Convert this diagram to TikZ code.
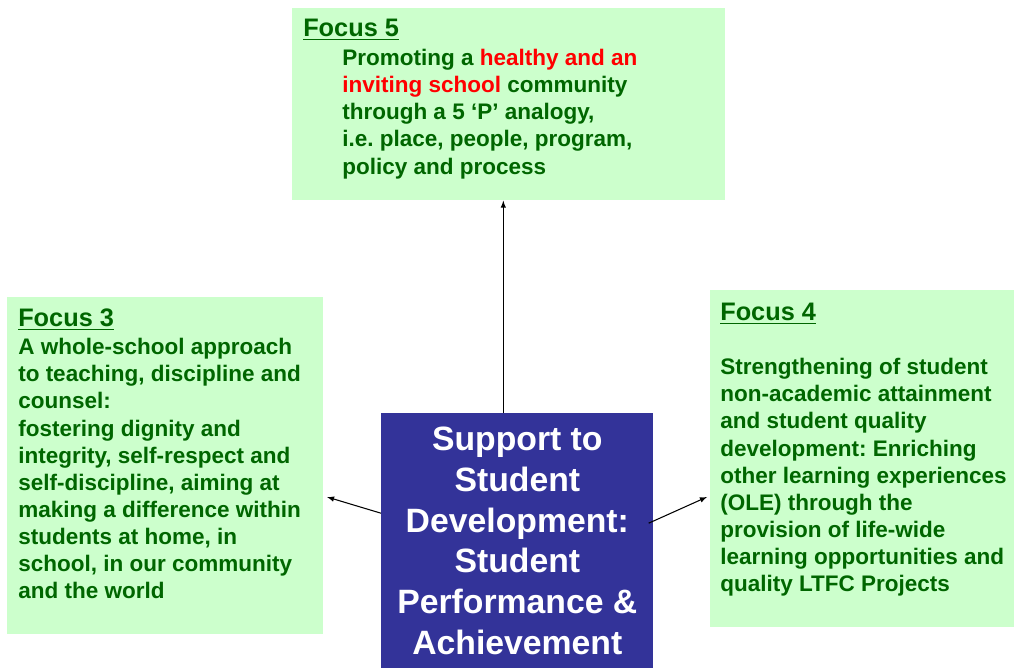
\documentclass[tikz,border=0pt]{standalone}
\usepackage{fontspec}
\setmainfont{Liberation Sans}
\usetikzlibrary{positioning}
\frenchspacing

\definecolor{boxgreen}{HTML}{CCFFCC}
\definecolor{textgreen}{HTML}{006600}
\definecolor{boxblue}{HTML}{333399}

\begin{document}
\begin{tikzpicture}[x=0.025cm,y=-0.025cm,
  focusbox/.style={fill=boxgreen, anchor=north west, inner sep=0pt},
  heading/.style={anchor=base west, inner sep=0pt, text=textgreen, font=\bfseries\fontsize{18}{21.6}\selectfont},
  body/.style={anchor=north west, inner sep=0pt, align=left, text=textgreen, font=\bfseries\fontsize{16}{19.3}\selectfont},
  link/.style={-latex, line width=0.75pt}]

\useasboundingbox (0,0) rectangle (1014,668);

\node[focusbox, minimum width=10.825cm, minimum height=4.8cm] (fivebox) at (292,8) {};
\node[focusbox, minimum width=7.9cm, minimum height=8.425cm] (threebox) at (7,297) {};
\node[focusbox, minimum width=7.6cm, minimum height=8.425cm] (fourbox) at (710,290) {};
\node[fill=boxblue, anchor=north west, minimum width=6.8cm, minimum height=6.375cm,
  align=center, text=white, font=\bfseries\fontsize{24}{28.9}\selectfont] (centre) at (381,413)
  {Support to\\Student\\Development:\\Student\\Performance \&\\Achievement};

\node[heading] (fivehead) at (303,37) {\underline{Focus 5}};
\node[body] (fivetext) at (342,49) {Promoting a \textcolor{red}{healthy and an}\\
  \textcolor{red}{inviting school} community\\
  through a 5 ‘P’ analogy,\\
  i.e. place, people, program,\\
  policy and process};

\node[heading] (threehead) at (18,327) {\underline{Focus 3}};
\node[body] (threetext) at (18,338) {A whole-school approach\\
  to teaching, discipline and\\
  counsel:\\
  fostering dignity and\\
  integrity, self-respect and\\
  self-discipline, aiming at\\
  making a difference within\\
  students at home, in\\
  school, in our community\\
  and the world};

\node[heading] (fourhead) at (720,321) {\underline{Focus 4}};
\node[body] (fourtext) at (720,358) {Strengthening of student\\
  non-academic attainment\\
  and student quality\\
  development: Enriching\\
  other learning experiences\\
  (OLE) through the\\
  provision of life-wide\\
  learning opportunities and\\
  quality LTFC Projects};

\coordinate (threetip) at (327,497);
\coordinate (fourtip) at (707,497);

\draw[link] ([xshift=-0.35cm]centre.north) -- ([xshift=-0.35cm]centre.north |- fivebox.south);
\draw[link] ([yshift=0.69cm]centre.west) -- (threetip);
\draw[link] ([xshift=-0.125cm, yshift=0.44cm]centre.east) -- (fourtip);

\end{tikzpicture}
\end{document}
